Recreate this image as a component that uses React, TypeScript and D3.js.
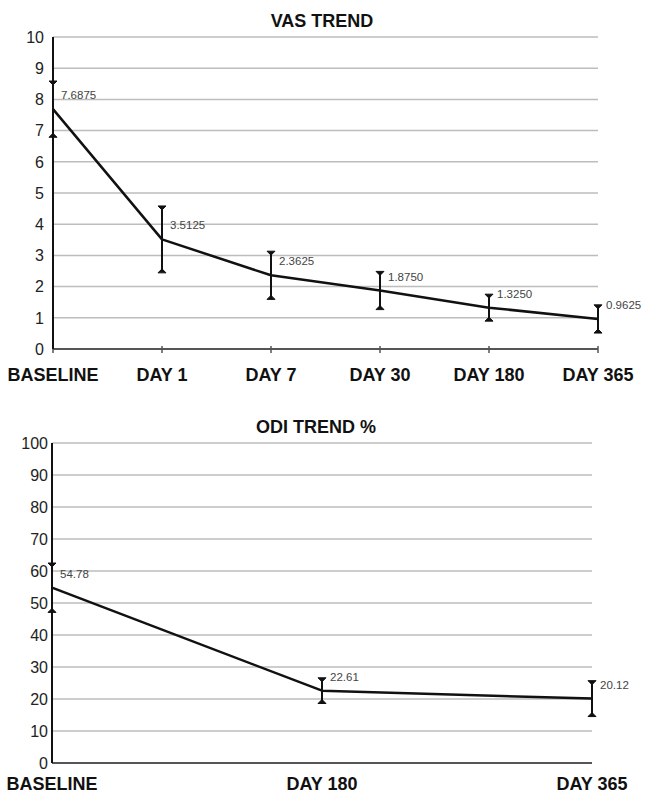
import React from "react";
import * as d3 from "d3";

// VAS chart data
const vasCategories = ["BASELINE", "DAY 1", "DAY 7", "DAY 30", "DAY 180", "DAY 365"];
const vasMeans = [7.6875, 3.5125, 2.3625, 1.875, 1.325, 0.9625];
const vasErrors = [0.87, 1.04, 0.74, 0.58, 0.4, 0.42];
const vasTicks = [0, 1, 2, 3, 4, 5, 6, 7, 8, 9, 10];

// ODI chart data
const odiCategories = ["BASELINE", "DAY 180", "DAY 365"];
const odiMeans = [54.78, 22.61, 20.12];
const odiErrors = [7.4, 3.7, 5.3];
const odiTicks = [0, 10, 20, 30, 40, 50, 60, 70, 80, 90, 100];

const FONT = "'Liberation Sans', Arial, Helvetica, sans-serif";

type TrendProps = {
  title: string;
  categories: string[];
  means: number[];
  errors: number[];
  ticks: number[];
  digits: number;
  x0: number;
  x1: number;
  yTop: number;
  yBottom: number;
  titleX: number;
  titleY: number;
  labelY: number;
  tickGap: number;
  showTicks: boolean;
};

const TrendChart = (p: TrendProps) => {
  const x = d3.scalePoint<string>().domain(p.categories).range([p.x0, p.x1]).padding(0);
  const y = d3
    .scaleLinear()
    .domain([0, d3.max(p.ticks) as number])
    .range([p.yBottom, p.yTop]);

  const pts = p.categories.map((c, i) => ({ c, m: p.means[i], e: p.errors[i] }));
  const line = d3
    .line<{ c: string; m: number }>()
    .x((d) => x(d.c) as number)
    .y((d) => y(d.m));

  return (
    <g>
      <text
        x={p.titleX}
        y={p.titleY}
        textAnchor="middle"
        fontFamily={FONT}
        fontWeight="bold"
        fontSize={18}
        fill="#111"
      >
        {p.title}
      </text>

      {/* grid */}
      {p.ticks
        .filter((t) => t > 0)
        .map((t) => (
          <line key={t} x1={p.x0} x2={p.x1} y1={y(t)} y2={y(t)} stroke="#bdbdbd" strokeWidth={1.5} />
        ))}

      {/* y tick labels */}
      {p.ticks.map((t) => (
        <text
          key={"l" + t}
          x={p.x0 - p.tickGap}
          y={y(t)}
          dy="0.36em"
          textAnchor="end"
          fontFamily={FONT}
          fontSize={16}
          fill="#222"
        >
          {t}
        </text>
      ))}

      {/* axes */}
      <line x1={p.x0} x2={p.x1} y1={y(0)} y2={y(0)} stroke="#555" strokeWidth={2} />
      {p.showTicks &&
        p.categories.map((c) => (
          <line key={"t" + c} x1={x(c)} x2={x(c)} y1={y(0) - 3} y2={y(0) + 4} stroke="#555" strokeWidth={1.5} />
        ))}
      <line x1={p.x0} x2={p.x0} y1={y(d3.max(p.ticks) as number)} y2={y(0)} stroke="#111" strokeWidth={2} />

      {/* error bars */}
      {pts.map((d) => {
        const cx = x(d.c) as number;
        const top = y(d.m + d.e);
        const bot = y(d.m - d.e);
        return (
          <g key={"e" + d.c}>
            <line x1={cx} x2={cx} y1={top} y2={bot} stroke="#111" strokeWidth={2} />
            <path d={`M${cx - 4},${top - 1}L${cx + 4},${top - 1}L${cx},${top + 3}Z`} fill="#111" stroke="#111" strokeWidth={1} />
            <path d={`M${cx - 4},${bot + 1}L${cx + 4},${bot + 1}L${cx},${bot - 3}Z`} fill="#111" stroke="#111" strokeWidth={1} />
          </g>
        );
      })}

      <path d={line(pts) || ""} fill="none" stroke="#111" strokeWidth={2.5} strokeLinejoin="round" />

      {/* value labels */}
      {pts.map((d) => (
        <text
          key={"v" + d.c}
          x={(x(d.c) as number) + 8}
          y={y(d.m) - 10}
          fontFamily={FONT}
          fontSize={11.5}
          fill="#444"
        >
          {d.m.toFixed(p.digits)}
        </text>
      ))}

      {/* category labels */}
      {p.categories.map((c) => (
        <text
          key={"c" + c}
          x={x(c)}
          y={p.labelY}
          textAnchor="middle"
          fontFamily={FONT}
          fontWeight="bold"
          fontSize={18}
          fill="#111"
        >
          {c}
        </text>
      ))}
    </g>
  );
};

export default function App() {
  return (
    <svg
      width={646}
      height={794}
      style={{ position: "absolute", left: 0, top: 0, background: "#fff" }}
    >
      <rect width={646} height={794} fill="#fff" />
      <TrendChart
        title="VAS TREND"
        categories={vasCategories}
        means={vasMeans}
        errors={vasErrors}
        ticks={vasTicks}
        digits={4}
        x0={53}
        x1={598}
        yTop={37}
        yBottom={349}
        titleX={322}
        titleY={27}
        labelY={381}
        tickGap={9}
        showTicks={true}
      />
      <TrendChart
        title="ODI TREND %"
        categories={odiCategories}
        means={odiMeans}
        errors={odiErrors}
        ticks={odiTicks}
        digits={2}
        x0={52}
        x1={592}
        yTop={443}
        yBottom={763}
        titleX={316}
        titleY={433}
        labelY={790}
        tickGap={4}
        showTicks={false}
      />
    </svg>
  );
}
